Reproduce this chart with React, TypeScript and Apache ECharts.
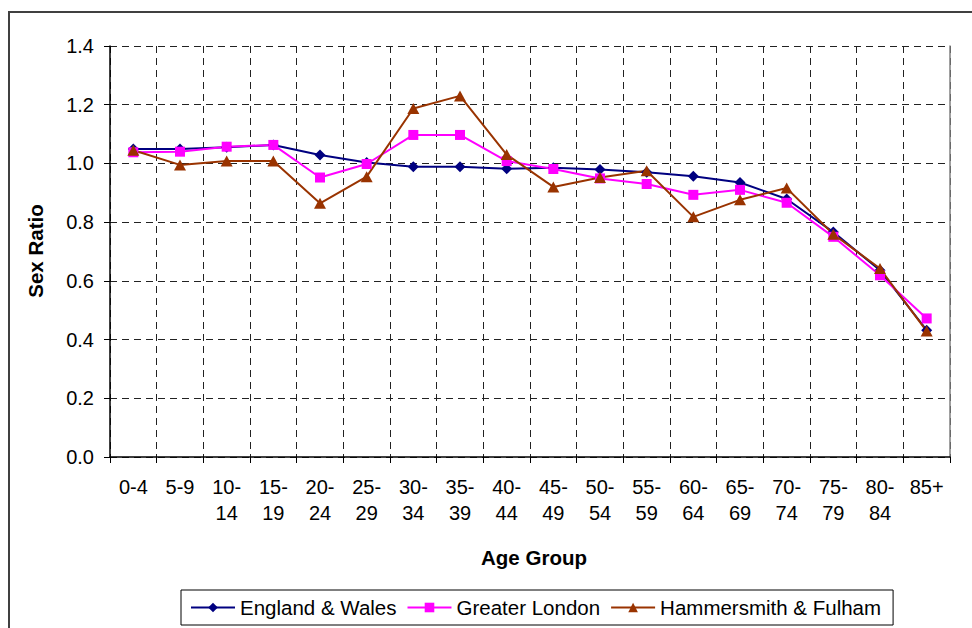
import React, { useEffect, useRef } from "react";
import * as echarts from "echarts";

const ageGroups = ["0-4", "5-9", "10-14", "15-19", "20-24", "25-29", "30-34", "35-39", "40-44", "45-49", "50-54", "55-59", "60-64", "65-69", "70-74", "75-79", "80-84", "85+"];
const englandWales = [1.049, 1.049, 1.055, 1.063, 1.029, 1.003, 0.989, 0.989, 0.982, 0.985, 0.979, 0.970, 0.956, 0.935, 0.879, 0.766, 0.636, 0.432];
const greaterLondon = [1.038, 1.040, 1.057, 1.063, 0.952, 0.998, 1.097, 1.097, 1.008, 0.981, 0.949, 0.930, 0.893, 0.910, 0.866, 0.750, 0.619, 0.472];
const hammersmithFulham = [1.045, 0.995, 1.008, 1.008, 0.864, 0.955, 1.187, 1.230, 1.030, 0.920, 0.952, 0.975, 0.818, 0.876, 0.916, 0.759, 0.642, 0.429];
const seriesNames = ["England & Wales", "Greater London", "Hammersmith & Fulham"];
const yTicks = { min: 0, max: 1.4, interval: 0.2 };

const FONT = "'Liberation Sans', Arial, Helvetica, sans-serif";

export default function App() {
  const ref = useRef<HTMLDivElement>(null);
  useEffect(() => {
    if (!ref.current) return;
    const chart = echarts.init(ref.current, undefined, { renderer: "svg" });
    const dashed = { color: "#222", width: 1, type: [7, 5] as any };
    chart.setOption({
      animation: false,
      backgroundColor: "#fff",
      textStyle: { fontFamily: FONT, color: "#000" },
      grid: { left: 110, right: 22, top: 46, bottom: 171, containLabel: false },
      legend: {
        left: 181,
        top: 590,
        orient: "horizontal",
        data: seriesNames,
        itemWidth: 44,
        itemHeight: 12,
        itemGap: 10,
        padding: [7, 12, 7, 9],
        borderColor: "#000",
        borderWidth: 1,
        backgroundColor: "#fff",
        textStyle: { fontFamily: FONT, fontSize: 20.5, color: "#000" },
      },
      xAxis: {
        type: "category",
        data: ageGroups,
        boundaryGap: true,
        axisLine: { show: true, lineStyle: { color: "#000", width: 1.5 } },
        axisTick: { show: true, alignWithLabel: false, length: 6, lineStyle: { color: "#000" } },
        splitLine: { show: true, lineStyle: dashed },
        axisLabel: {
          interval: 0,
          margin: 17,
          fontFamily: FONT,
          fontSize: 20,
          lineHeight: 26,
          color: "#000",
          formatter: (v: string) => (v.length > 3 ? v.replace("-", "-\n") : v),
        },
      },
      yAxis: [
        {
          type: "value",
          min: yTicks.min,
          max: yTicks.max,
          interval: yTicks.interval,
          axisLine: { show: true, lineStyle: { color: "#000", width: 1.5 } },
          axisTick: { show: true, length: 6, lineStyle: { color: "#000" } },
          splitLine: { show: true, lineStyle: dashed },
          axisLabel: {
            margin: 16,
            fontFamily: FONT,
            fontSize: 20,
            color: "#000",
            formatter: (v: number) => v.toFixed(1),
          },
        },
        {
          type: "value",
          position: "right",
          min: yTicks.min,
          max: yTicks.max,
          interval: yTicks.interval,
          axisLine: { show: true, lineStyle: { color: "#808080", width: 1.5 } },
          axisTick: { show: false },
          splitLine: { show: false },
          axisLabel: { show: false },
        },
      ],
      series: [
        {
          name: seriesNames[0],
          type: "line",
          data: englandWales,
          symbol: "diamond",
          symbolSize: 11,
          lineStyle: { color: "#000080", width: 2 },
          itemStyle: { color: "#000080" },
        },
        {
          name: seriesNames[1],
          type: "line",
          data: greaterLondon,
          symbol: "rect",
          symbolSize: 10,
          lineStyle: { color: "#FF00FF", width: 2 },
          itemStyle: { color: "#FF00FF" },
        },
        {
          name: seriesNames[2],
          type: "line",
          data: hammersmithFulham,
          symbol: "triangle",
          symbolSize: [12, 11],
          lineStyle: { color: "#993300", width: 2 },
          itemStyle: { color: "#993300" },
        },
      ],
      graphic: [
        {
          type: "rect",
          shape: { x: 9, y: 12, width: 1000, height: 700 },
          style: { fill: "none", stroke: "#404040", lineWidth: 2 },
          silent: true,
          z: -1,
        },
        {
          type: "text",
          x: 35,
          y: 251,
          rotation: Math.PI / 2,
          style: {
            text: "Sex Ratio",
            fontFamily: FONT,
            fontSize: 20.5,
            fontWeight: "bold",
            fill: "#000",
            align: "center",
            verticalAlign: "middle",
          },
        },
        {
          type: "text",
          x: 534,
          y: 557,
          style: {
            text: "Age Group",
            fontFamily: FONT,
            fontSize: 20.5,
            fontWeight: "bold",
            fill: "#000",
            align: "center",
            verticalAlign: "middle",
          },
        },
      ],
    });
    return () => chart.dispose();
  }, []);
  return (
    <div
      ref={ref}
      style={{ position: "fixed", left: 0, top: 0, width: 972, height: 628, background: "#fff" }}
    />
  );
}
